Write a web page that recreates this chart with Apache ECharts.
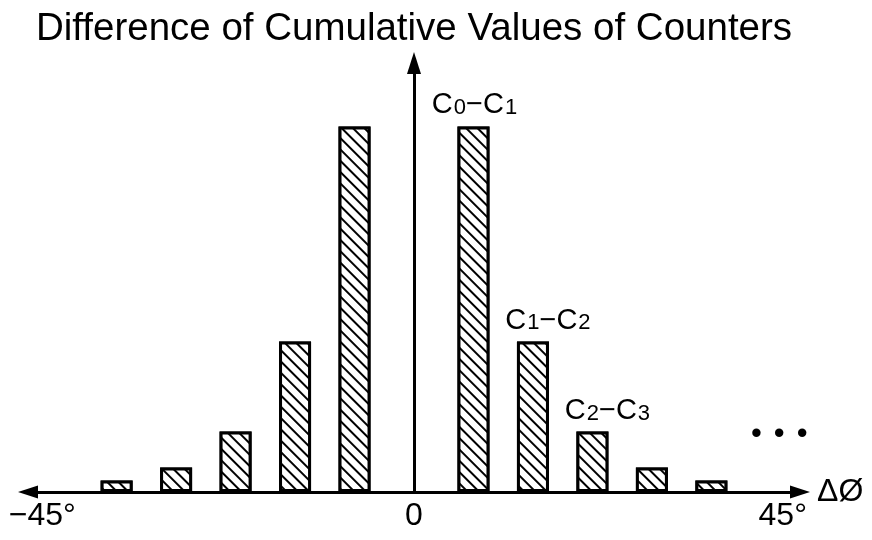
<!DOCTYPE html>
<html>
<head>
<meta charset="utf-8">
<script src="https://cdn.jsdelivr.net/npm/echarts@6/dist/echarts.min.js"></script>
<style>html,body{margin:0;padding:0;background:#fff;}#c{width:872px;height:540px;}</style>
</head>
<body>
<div id="c"></div>
<script>
// Bin positions along the ΔØ axis (0 = centre, no bar there)
const binPositions = [-5, -4, -3, -2, -1, 1, 2, 3, 4, 5];
// Difference of cumulative counter values (relative units)
const binValues = [2.7, 5.7, 14.1, 35.1, 85.2, 85.2, 35.1, 14.1, 5.7, 2.7];
// Annotation subscripts (Ca − Cb) for some bins
const binLabelPairs = [null, null, null, null, null, ['0', '1'], ['1', '2'], ['2', '3'], null, null];
// x-axis tick labels
const xTickValues = [-6.25, 0, 6.2];
const xTickLabels = ['\u221245\u00b0', '0', '45\u00b0'];
const yAxisTitle = 'Difference of Cumulative Values of Counters';
const xAxisTitle = '\u0394\u00d8';

const FONT = 'Liberation Sans';
const labelOffsets = { 5: [1, -3], 6: [15, -2], 7: [15, -2] };

const data = binPositions.map(function (x, i) {
  const item = { value: [x, binValues[i]] };
  const pair = binLabelPairs[i];
  if (pair) {
    item.label = {
      show: true,
      position: 'top',
      offset: labelOffsets[i] || [0, 0],
      formatter: '{c|C}{s|' + pair[0] + '}{c|\u2212C}{s|' + pair[1] + '}'
    };
  }
  return item;
});

const chart = echarts.init(document.getElementById('c'), null, { renderer: 'canvas' });
chart.setOption({
  backgroundColor: '#fff',
  animation: false,
  grid: { left: 28, right: 72, top: 63, bottom: 48, containLabel: false },
  xAxis: {
    type: 'value',
    min: -6.49,
    max: 6.49,
    name: xAxisTitle,
    nameLocation: 'end',
    nameGap: 17,
    nameTextStyle: { fontFamily: FONT, fontSize: 32, color: '#000', verticalAlign: 'middle' },
    axisLine: {
      show: true,
      onZero: true,
      symbol: ['triangle', 'triangle'],
      symbolSize: [13, 20],
      lineStyle: { color: '#000', width: 3 }
    },
    axisTick: { show: false },
    splitLine: { show: false },
    axisLabel: {
      show: true,
      customValues: xTickValues,
      margin: 8,
      fontFamily: FONT,
      fontSize: 32,
      color: '#000',
      formatter: function (v) {
        const idx = xTickValues.indexOf(v);
        return idx >= 0 ? xTickLabels[idx] : '';
      }
    }
  },
  yAxis: {
    type: 'value',
    min: 0,
    max: 100,
    name: yAxisTitle,
    nameLocation: 'end',
    nameGap: 14,
    nameTextStyle: { fontFamily: FONT, fontSize: 38.5, color: '#000', align: 'center', verticalAlign: 'bottom' },
    axisLine: {
      show: true,
      onZero: true,
      symbol: ['none', 'triangle'],
      symbolSize: [14, 22],
      lineStyle: { color: '#000', width: 3 }
    },
    axisTick: { show: false },
    axisLabel: { show: false },
    splitLine: { show: false }
  },
  graphic: [{
    type: 'text',
    left: 751,
    top: 419,
    style: {
      text: '{d|\u2022}{d|\u2022}{d|\u2022}',
      rich: { d: { fontFamily: FONT, fontSize: 31, fill: '#000', padding: [0, 6, 0, 6] } }
    }
  }],
  series: [{
    type: 'bar',
    barWidth: 32,
    data: data,
    itemStyle: {
      color: '#fff',
      borderColor: '#000',
      borderWidth: 3,
      decal: {
        symbol: 'rect',
        symbolSize: 1,
        color: '#000',
        backgroundColor: '#fff',
        dashArrayX: [1, 0],
        dashArrayY: [1.2, 5.8],
        rotation: Math.PI / 4
      }
    },
    label: {
      color: '#000',
      rich: {
        c: { fontFamily: FONT, fontSize: 29, color: '#000', lineHeight: 28, verticalAlign: 'top' },
        s: { fontFamily: FONT, fontSize: 22, color: '#000', lineHeight: 20, verticalAlign: 'bottom', padding: [14, 0, 0, 1] }
      }
    },
    emphasis: { disabled: true }
  }]
});
</script>
</body>
</html>
